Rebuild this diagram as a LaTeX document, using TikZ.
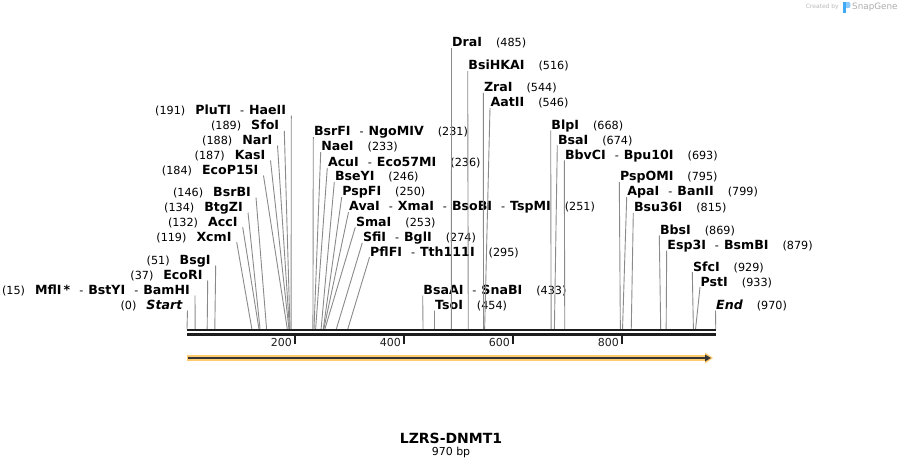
\documentclass[tikz,border=0pt]{standalone}
\usepackage{fontspec}
\setmainfont{DejaVu Sans}
\usetikzlibrary{arrows.meta}
\newcommand{\axisLeft}{187}
\newcommand{\axisRight}{715.7}
\newcommand{\bpScale}{0.5451}
\newcommand{\axisTop}{329}
\newcommand{\enzName}[1]{{\fontsize{12.6}{14}\selectfont\bfseries #1}}
\newcommand{\cutPos}[1]{(#1)}
\newcommand{\dashSep}{\hspace{9pt}-\hspace{5pt}}
\newcommand{\posGap}{\hspace{14pt}}
\newcommand{\leftGap}{\hspace{10pt}}
\definecolor{cutLine}{HTML}{8A8A8A}
\definecolor{axisDark}{HTML}{1E1E1E}
\definecolor{featOrange}{HTML}{FFCB6E}
\definecolor{snapBlue}{HTML}{3FA9F5}
\tikzset{
  leftLbl/.style={anchor=south east, inner xsep=5pt, inner ysep=1pt, text depth=0pt,
    font=\fontsize{11.2}{14}\selectfont},
  rightLbl/.style={anchor=south west, inner xsep=0.5pt, inner ysep=1pt, text depth=0pt,
    font=\fontsize{11.2}{14}\selectfont},
  cutMark/.style={draw=cutLine, line width=0.9pt},
  tickMark/.style={draw=axisDark, line width=2pt},
  tickLbl/.style={anchor=east, inner sep=0pt, text=axisDark, font=\fontsize{11}{13}\selectfont},
}
\begin{document}
\begin{tikzpicture}[x=1pt, y=-1pt]
\useasboundingbox (0,0) rectangle (903,468);

\node[leftLbl] (pluti) at (291.3,115.7) {\cutPos{191}\leftGap\enzName{PluTI}\dashSep\enzName{HaeII}};
\node[leftLbl] (sfoi) at (284.3,131) {\cutPos{189}\leftGap\enzName{SfoI}};
\node[leftLbl] (nari) at (277.5,145.5) {\cutPos{188}\leftGap\enzName{NarI}};
\node[leftLbl] (kasi) at (270.5,160.5) {\cutPos{187}\leftGap\enzName{KasI}};
\node[leftLbl] (ecop) at (263.5,175.5) {\cutPos{184}\leftGap\enzName{EcoP15I}};
\node[leftLbl] (bsrbi) at (256,197.5) {\cutPos{146}\leftGap\enzName{BsrBI}};
\node[leftLbl] (btgzi) at (248,212.5) {\cutPos{134}\leftGap\enzName{BtgZI}};
\node[leftLbl] (acci) at (242.7,227.2) {\cutPos{132}\leftGap\enzName{AccI}};
\node[leftLbl] (xcmi) at (236.7,242.2) {\cutPos{119}\leftGap\enzName{XcmI}};
\node[leftLbl] (bsgi) at (215.7,265.5) {\cutPos{51}\leftGap\enzName{BsgI}};
\node[leftLbl] (ecori) at (207.7,280.5) {\cutPos{37}\leftGap\enzName{EcoRI}};
\node[leftLbl] (mfli) at (195,295.5) {\cutPos{15}\leftGap\enzName{MflI\,*}\dashSep\enzName{BstYI}\dashSep\enzName{BamHI}};
\node[leftLbl] (start) at (187.5,310.5) {\cutPos{0}\leftGap\enzName{\itshape Start}};

\node[rightLbl] (bsrfi) at (313.3,137.2) {\enzName{BsrFI}\dashSep\enzName{NgoMIV}\posGap\cutPos{231}};
\node[rightLbl] (naei) at (320.7,152.2) {\enzName{NaeI}\posGap\cutPos{233}};
\node[rightLbl] (acui) at (327.3,167.8) {\enzName{AcuI}\dashSep\enzName{Eco57MI}\posGap\cutPos{236}};
\node[rightLbl] (bseyi) at (334.3,182.2) {\enzName{BseYI}\posGap\cutPos{246}};
\node[rightLbl] (pspfi) at (341.7,197.2) {\enzName{PspFI}\posGap\cutPos{250}};
\node[rightLbl] (avai) at (348.5,212.2) {\enzName{AvaI}\dashSep\enzName{XmaI}\dashSep\enzName{BsoBI}\dashSep\enzName{TspMI}\posGap\cutPos{251}};
\node[rightLbl] (smai) at (355.3,227.2) {\enzName{SmaI}\posGap\cutPos{253}};
\node[rightLbl] (sfii) at (362.3,242.8) {\enzName{SfiI}\dashSep\enzName{BglI}\posGap\cutPos{274}};
\node[rightLbl] (pflfi) at (369.5,257.2) {\enzName{PflFI}\dashSep\enzName{Tth111I}\posGap\cutPos{295}};
\node[rightLbl] (bsaai) at (422.7,295.5) {\enzName{BsaAI}\dashSep\enzName{SnaBI}\posGap\cutPos{433}};
\node[rightLbl] (tsoi) at (434.5,310.5) {\enzName{TsoI}\posGap\cutPos{454}};
\node[rightLbl] (drai) at (451.5,48.2) {\enzName{DraI}\posGap\cutPos{485}};
\node[rightLbl] (bsihkai) at (467.7,71.2) {\enzName{BsiHKAI}\posGap\cutPos{516}};
\node[rightLbl] (zrai) at (483.3,92.8) {\enzName{ZraI}\posGap\cutPos{544}};
\node[rightLbl] (aatii) at (490,107.8) {\enzName{AatII}\posGap\cutPos{546}};
\node[rightLbl] (blpi) at (550.7,130.5) {\enzName{BlpI}\posGap\cutPos{668}};
\node[rightLbl] (bsai) at (557.3,145.5) {\enzName{BsaI}\posGap\cutPos{674}};
\node[rightLbl] (bbvci) at (564.3,160.5) {\enzName{BbvCI}\dashSep\enzName{Bpu10I}\posGap\cutPos{693}};
\node[rightLbl] (pspomi) at (619.3,182.2) {\enzName{PspOMI}\posGap\cutPos{795}};
\node[rightLbl] (apai) at (626.7,197.2) {\enzName{ApaI}\dashSep\enzName{BanII}\posGap\cutPos{799}};
\node[rightLbl] (bsu36i) at (633.3,212.8) {\enzName{Bsu36I}\posGap\cutPos{815}};
\node[rightLbl] (bbsi) at (659.3,235.5) {\enzName{BbsI}\posGap\cutPos{869}};
\node[rightLbl] (esp3i) at (666.7,250.5) {\enzName{Esp3I}\dashSep\enzName{BsmBI}\posGap\cutPos{879}};
\node[rightLbl] (sfci) at (692.3,272.2) {\enzName{SfcI}\posGap\cutPos{929}};
\node[rightLbl] (psti) at (700,287.2) {\enzName{PstI}\posGap\cutPos{933}};
\node[rightLbl] (end) at (715.5,310.5) {\enzName{\itshape End}\posGap\cutPos{970}};

\coordinate (s0) at ({\axisLeft+0*\bpScale},\axisTop);
\coordinate (s15) at ({\axisLeft+15*\bpScale},\axisTop);
\coordinate (s37) at ({\axisLeft+37*\bpScale},\axisTop);
\coordinate (s51) at ({\axisLeft+51*\bpScale},\axisTop);
\coordinate (s119) at ({\axisLeft+119*\bpScale},\axisTop);
\coordinate (s132) at ({\axisLeft+132*\bpScale},\axisTop);
\coordinate (s134) at ({\axisLeft+134*\bpScale},\axisTop);
\coordinate (s146) at ({\axisLeft+146*\bpScale},\axisTop);
\coordinate (s184) at ({\axisLeft+184*\bpScale},\axisTop);
\coordinate (s187) at ({\axisLeft+187*\bpScale},\axisTop);
\coordinate (s188) at ({\axisLeft+188*\bpScale},\axisTop);
\coordinate (s189) at ({\axisLeft+189*\bpScale},\axisTop);
\coordinate (s191) at ({\axisLeft+191*\bpScale},\axisTop);
\coordinate (s231) at ({\axisLeft+231*\bpScale},\axisTop);
\coordinate (s233) at ({\axisLeft+233*\bpScale},\axisTop);
\coordinate (s236) at ({\axisLeft+236*\bpScale},\axisTop);
\coordinate (s246) at ({\axisLeft+246*\bpScale},\axisTop);
\coordinate (s250) at ({\axisLeft+250*\bpScale},\axisTop);
\coordinate (s251) at ({\axisLeft+251*\bpScale},\axisTop);
\coordinate (s253) at ({\axisLeft+253*\bpScale},\axisTop);
\coordinate (s274) at ({\axisLeft+274*\bpScale},\axisTop);
\coordinate (s295) at ({\axisLeft+295*\bpScale},\axisTop);
\coordinate (s433) at ({\axisLeft+433*\bpScale},\axisTop);
\coordinate (s454) at ({\axisLeft+454*\bpScale},\axisTop);
\coordinate (s485) at ({\axisLeft+485*\bpScale},\axisTop);
\coordinate (s516) at ({\axisLeft+516*\bpScale},\axisTop);
\coordinate (s544) at ({\axisLeft+544*\bpScale},\axisTop);
\coordinate (s546) at ({\axisLeft+546*\bpScale},\axisTop);
\coordinate (s668) at ({\axisLeft+668*\bpScale},\axisTop);
\coordinate (s674) at ({\axisLeft+674*\bpScale},\axisTop);
\coordinate (s693) at ({\axisLeft+693*\bpScale},\axisTop);
\coordinate (s795) at ({\axisLeft+795*\bpScale},\axisTop);
\coordinate (s799) at ({\axisLeft+799*\bpScale},\axisTop);
\coordinate (s815) at ({\axisLeft+815*\bpScale},\axisTop);
\coordinate (s869) at ({\axisLeft+869*\bpScale},\axisTop);
\coordinate (s879) at ({\axisLeft+879*\bpScale},\axisTop);
\coordinate (s929) at ({\axisLeft+929*\bpScale},\axisTop);
\coordinate (s933) at ({\axisLeft+933*\bpScale},\axisTop);
\coordinate (s970) at ({\axisLeft+970*\bpScale},\axisTop);

\draw[cutMark] (pluti.south east) -- (s191);
\draw[cutMark] (sfoi.south east) -- (s189);
\draw[cutMark] (nari.south east) -- (s188);
\draw[cutMark] (kasi.south east) -- (s187);
\draw[cutMark] (ecop.south east) -- (s184);
\draw[cutMark] (bsrbi.south east) -- (s146);
\draw[cutMark] (btgzi.south east) -- (s134);
\draw[cutMark] (acci.south east) -- (s132);
\draw[cutMark] (xcmi.south east) -- (s119);
\draw[cutMark] (bsgi.south east) -- (s51);
\draw[cutMark] (ecori.south east) -- (s37);
\draw[cutMark] (mfli.south east) -- (s15);
\draw[cutMark] (start.south east) -- (s0);
\draw[cutMark] (bsrfi.south west) -- (s231);
\draw[cutMark] (naei.south west) -- (s233);
\draw[cutMark] (acui.south west) -- (s236);
\draw[cutMark] (bseyi.south west) -- (s246);
\draw[cutMark] (pspfi.south west) -- (s250);
\draw[cutMark] (avai.south west) -- (s251);
\draw[cutMark] (smai.south west) -- (s253);
\draw[cutMark] (sfii.south west) -- (s274);
\draw[cutMark] (pflfi.south west) -- (s295);
\draw[cutMark] (bsaai.south west) -- (s433);
\draw[cutMark] (tsoi.south west) -- (s454);
\draw[cutMark] (drai.south west) -- (s485);
\draw[cutMark] (bsihkai.south west) -- (s516);
\draw[cutMark] (zrai.south west) -- (s544);
\draw[cutMark] (aatii.south west) -- (s546);
\draw[cutMark] (blpi.south west) -- (s668);
\draw[cutMark] (bsai.south west) -- (s674);
\draw[cutMark] (bbvci.south west) -- (s693);
\draw[cutMark] (pspomi.south west) -- (s795);
\draw[cutMark] (apai.south west) -- (s799);
\draw[cutMark] (bsu36i.south west) -- (s815);
\draw[cutMark] (bbsi.south west) -- (s869);
\draw[cutMark] (esp3i.south west) -- (s879);
\draw[cutMark] (sfci.south west) -- (s929);
\draw[cutMark] (psti.south west) -- (s933);
\draw[cutMark] (end.south west) -- (s970);

\draw[axisDark, line width=2.7pt] (\axisLeft,330) -- (\axisRight,330);
\draw[axisDark, line width=2.7pt] (\axisLeft,334.7) -- (\axisRight,334.7);
\draw[tickMark] ({\axisLeft+200*\bpScale-1},336) -- ({\axisLeft+200*\bpScale-1},344);
\draw[tickMark] ({\axisLeft+400*\bpScale-1},336) -- ({\axisLeft+400*\bpScale-1},344);
\draw[tickMark] ({\axisLeft+600*\bpScale-1},336) -- ({\axisLeft+600*\bpScale-1},344);
\draw[tickMark] ({\axisLeft+800*\bpScale-1},336) -- ({\axisLeft+800*\bpScale-1},344);
\node[tickLbl] (t200) at ({\axisLeft+200*\bpScale-4},342.5) {200};
\node[tickLbl] (t400) at ({\axisLeft+400*\bpScale-4},342.5) {400};
\node[tickLbl] (t600) at ({\axisLeft+600*\bpScale-4},342.5) {600};
\node[tickLbl] (t800) at ({\axisLeft+800*\bpScale-4},342.5) {800};

\draw[featOrange, line width=5.5pt] (\axisLeft,358) -- (709,358);
\fill[featOrange] (705,352.5) -- (713,358) -- (705,363.5) -- cycle;
\draw[axisDark!90, line width=1.6pt, -{Triangle[length=6pt,width=6.5pt]}] (188,358) -- (711,358);

\node[font=\fontsize{14}{16}\selectfont\bfseries] (title) at (451,438) {LZRS-DNMT1};
\node[font=\fontsize{11}{13}\selectfont] (size) at (451,452) {970 bp};

\node[anchor=east, inner sep=0pt, text=gray!55, font=\fontsize{6}{7}\selectfont] (credit) at (839,7) {Created by};
\fill[snapBlue] (843,2) rectangle (846,13);
\fill[snapBlue!60] (846,2) -- (849,2) .. controls (851,2) and (851,8) .. (849,8) -- (846,8) -- cycle;
\node[anchor=west, inner sep=0pt, text=gray!65, font=\fontsize{8.8}{10}\selectfont] (brand) at (852,7.5) {SnapGene};
\end{tikzpicture}
\end{document}
